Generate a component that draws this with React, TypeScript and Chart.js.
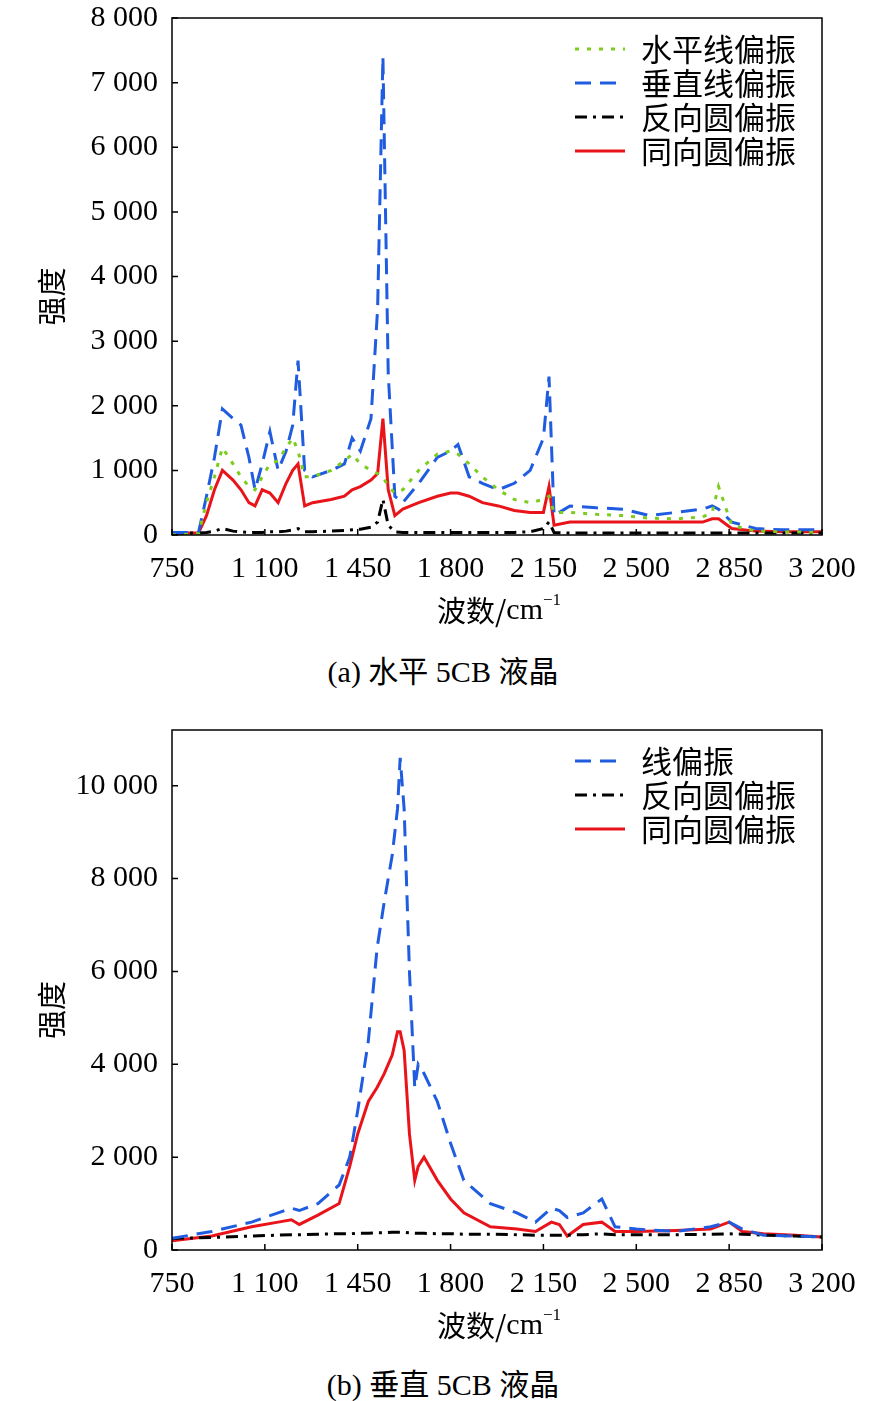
import React, { useEffect, useRef } from "react";
import { Chart, registerables } from "chart.js";
Chart.register(...registerables);

// Chart (a)
const xA = [750, 850, 880, 910, 940, 980, 1010, 1040, 1063, 1090, 1119, 1150, 1180, 1205, 1225, 1250, 1280, 1350, 1400, 1429, 1460, 1500, 1525, 1545, 1565, 1590, 1620, 1680, 1750, 1800, 1828, 1870, 1920, 1980, 2040, 2100, 2150, 2171, 2190, 2250, 2350, 2450, 2550, 2650, 2750, 2786, 2810, 2860, 2950, 3050, 3200];
const hLin = [0, 20, 500, 900, 1350, 1100, 900, 750, 700, 900, 1100, 1150, 1350, 1500, 1300, 900, 900, 1000, 1150, 1250, 1100, 1000, 950, 900, 750, 650, 700, 1000, 1250, 1300, 1250, 1100, 900, 700, 550, 500, 550, 600, 350, 350, 320, 300, 260, 250, 280, 350, 750, 150, 60, 50, 40];
const vLin = [40, 40, 600, 1200, 1950, 1800, 1700, 1200, 700, 1100, 1600, 1000, 1300, 1700, 2700, 1000, 900, 1000, 1100, 1500, 1300, 1800, 3500, 7400, 2500, 600, 500, 800, 1200, 1300, 1400, 900, 800, 700, 800, 1000, 1500, 2450, 300, 450, 420, 400, 300, 350, 400, 450, 400, 200, 100, 80, 80];
const crossC = [30, 30, 40, 60, 100, 60, 50, 40, 40, 40, 50, 50, 60, 80, 100, 50, 50, 60, 70, 80, 90, 120, 200, 550, 150, 50, 40, 40, 40, 40, 40, 40, 40, 40, 40, 50, 100, 200, 40, 30, 30, 30, 30, 30, 30, 30, 30, 30, 30, 30, 30];
const coC = [30, 30, 300, 700, 1000, 850, 700, 500, 450, 700, 650, 500, 800, 1000, 1100, 450, 500, 550, 600, 700, 750, 850, 950, 1800, 700, 300, 400, 500, 600, 650, 650, 600, 500, 450, 380, 350, 350, 750, 150, 200, 200, 200, 200, 200, 200, 250, 250, 100, 60, 50, 50];

// Chart (b)
const xB = [750, 900, 1050, 1150, 1200, 1230, 1300, 1380, 1420, 1450, 1490, 1523, 1550, 1580, 1600, 1610, 1625, 1645, 1665, 1678, 1700, 1750, 1800, 1850, 1950, 2050, 2120, 2180, 2210, 2240, 2300, 2370, 2420, 2500, 2650, 2780, 2850, 2900, 2980, 3100, 3200];
const linB = [250, 400, 600, 800, 900, 850, 1000, 1400, 2000, 3000, 4500, 6500, 7500, 8500, 9500, 10600, 9500, 6000, 3500, 4000, 3800, 3200, 2300, 1500, 1000, 800, 600, 900, 850, 700, 800, 1100, 500, 450, 400, 500, 600, 450, 320, 300, 280];
const crossB = [250, 270, 300, 320, 330, 330, 340, 350, 350, 360, 360, 370, 370, 380, 380, 380, 380, 370, 360, 360, 360, 350, 350, 340, 340, 330, 320, 320, 320, 320, 330, 350, 330, 330, 330, 340, 350, 340, 320, 300, 280];
const coB = [200, 300, 500, 600, 650, 550, 750, 1000, 1800, 2500, 3200, 3500, 3800, 4200, 4700, 4700, 4300, 2500, 1500, 1800, 2000, 1500, 1100, 800, 500, 450, 400, 600, 550, 300, 550, 600, 400, 400, 420, 450, 600, 400, 350, 320, 280];

const xTicks = [750, 1100, 1450, 1800, 2150, 2500, 2850, 3200];
const yTicksA = [0, 1000, 2000, 3000, 4000, 5000, 6000, 7000, 8000];
const yTicksB = [0, 2000, 4000, 6000, 8000, 10000];

const FONT = "'Liberation Serif', 'Noto Sans CJK SC', serif";
const CJK = "'Noto Sans CJK SC', 'Liberation Serif'";
const fmt = (v: number) => {
  const s = String(Math.round(v));
  return s.length > 3 ? s.slice(0, s.length - 3) + " " + s.slice(-3) : s;
};

type Ser = { label: string; data: number[]; color: string; dash: number[] };

function build(xs: number[], sers: Ser[]) {
  return sers.map((s) => ({
    label: s.label,
    data: xs.map((x, i) => ({ x, y: s.data[i] })),
    borderColor: s.color,
    borderDash: s.dash,
    borderWidth: 3,
    pointRadius: 0,
    tension: 0,
    fill: false,
  }));
}

function ChartBox({ xs, sers, ymax, yTicks, bottomH }: { xs: number[]; sers: Ser[]; ymax: number; yTicks: number[]; bottomH: number }) {
  const ref = useRef<HTMLCanvasElement>(null);
  useEffect(() => {
    const deco = {
      id: "deco",
      afterDraw(c: any) {
        const { ctx, chartArea: a, scales } = c;
        ctx.save();
        ctx.strokeStyle = "#000";
        ctx.lineWidth = 1.5;
        ctx.setLineDash([]);
        ctx.strokeRect(a.left, a.top, a.right - a.left, a.bottom - a.top);
        ctx.beginPath();
        xTicks.forEach((t) => {
          const px = scales.x.getPixelForValue(t);
          ctx.moveTo(px, a.bottom);
          ctx.lineTo(px, a.bottom - 6);
        });
        yTicks.forEach((t) => {
          const py = scales.y.getPixelForValue(t);
          ctx.moveTo(a.left, py);
          ctx.lineTo(a.left + 6, py);
        });
        ctx.stroke();
        ctx.fillStyle = "#000";
        ctx.textBaseline = "middle";
        // y tick labels
        ctx.textAlign = "right";
        ctx.font = `30px ${FONT}`;
        yTicks.forEach((t) => {
          ctx.fillText(fmt(t), a.left - 14, scales.y.getPixelForValue(t));
        });
        const cx = (a.left + a.right) / 2;
        const ty = a.bottom + 76;
        ctx.font = `29px ${CJK}`;
        const w1 = ctx.measureText("波数/").width;
        ctx.font = `30px ${FONT}`;
        const w2 = ctx.measureText("cm").width;
        const w3 = 14;
        const sx = cx - (w1 + w2 + w3) / 2;
        ctx.textAlign = "left";
        ctx.font = `29px ${CJK}`;
        ctx.fillText("波数/", sx, ty);
        ctx.font = `30px ${FONT}`;
        ctx.fillText("cm", sx + w1, ty);
        ctx.font = `17px ${FONT}`;
        ctx.fillText("−1", sx + w1 + w2, ty - 10);
        ctx.save();
        ctx.translate(52, (a.top + a.bottom) / 2 + 20);
        ctx.rotate(-Math.PI / 2);
        ctx.textAlign = "center";
        ctx.font = `29px ${CJK}`;
        ctx.fillText("强度", 0, 0);
        ctx.restore();
        const lx = 575, lw = 50;
        sers.forEach((s, i) => {
          const y = a.top + 31 + i * 34;
          ctx.strokeStyle = s.color;
          ctx.lineWidth = 3;
          ctx.setLineDash(s.dash);
          ctx.beginPath();
          ctx.moveTo(lx, y);
          ctx.lineTo(lx + lw, y);
          ctx.stroke();
          ctx.fillStyle = "#000";
          ctx.textAlign = "left";
          ctx.font = `31px ${CJK}`;
          ctx.fillText(s.label, 641, y);
        });
        ctx.restore();
      },
    };
    const chart = new Chart(ref.current!, {
      type: "line",
      data: { datasets: build(xs, sers) as any },
      options: {
        animation: false,
        responsive: false,
        layout: { padding: { top: 18, right: 64, left: 0, bottom: 0 } },
        plugins: { legend: { display: false }, tooltip: { enabled: false } },
        scales: {
          x: {
            type: "linear",
            min: 750,
            max: 3200,
            afterBuildTicks: (ax: any) => { ax.ticks = xTicks.map((v) => ({ value: v })); },
            afterFit: (ax: any) => { ax.height = bottomH; },
            grid: { display: false },
            border: { display: false },
            ticks: { color: "#000", font: { family: FONT, size: 30 }, maxRotation: 0, padding: 8, callback: (v: any) => fmt(v) },
          },
          y: {
            min: 0,
            max: ymax,
            afterBuildTicks: (ax: any) => { ax.ticks = yTicks.map((v) => ({ value: v })); },
            afterFit: (ax: any) => { ax.width = 172; },
            grid: { display: false },
            border: { display: false },
            ticks: { display: false },
          },
        },
      } as any,
      plugins: [deco],
    });
    return () => chart.destroy();
  }, []);
  return <canvas ref={ref} width={886} height={640} style={{ display: "block", width: 886, height: 640 }} />;
}

const capStyle: React.CSSProperties = { position: "absolute", left: 0, width: 886, textAlign: "center", fontFamily: FONT, fontSize: 30, color: "#000" };

export default function App() {
  const sA: Ser[] = [
    { label: "水平线偏振", data: hLin, color: "#7ccc1e", dash: [4, 8] },
    { label: "垂直线偏振", data: vLin, color: "#1f5ce0", dash: [16, 9] },
    { label: "反向圆偏振", data: crossC, color: "#000000", dash: [12, 6, 3, 6] },
    { label: "同向圆偏振", data: coC, color: "#e8141a", dash: [] },
  ];
  const sB: Ser[] = [
    { label: "线偏振", data: linB, color: "#1f5ce0", dash: [16, 9] },
    { label: "反向圆偏振", data: crossB, color: "#000000", dash: [12, 6, 3, 6] },
    { label: "同向圆偏振", data: coB, color: "#e8141a", dash: [] },
  ];
  return (
    <div style={{ position: "absolute", top: 0, left: 0, width: 886, height: 1401, background: "#fff" }}>
      <div style={{ position: "absolute", top: 0, left: 0 }}>
        <ChartBox xs={xA} sers={sA} ymax={8000} yTicks={yTicksA} bottomH={105} />
      </div>
      <div style={{ ...capStyle, top: 647 }}>(a) 水平 5CB 液晶</div>
      <div style={{ position: "absolute", top: 712, left: 0 }}>
        <ChartBox xs={xB} sers={sB} ymax={11200} yTicks={yTicksB} bottomH={102} />
      </div>
      <div style={{ ...capStyle, top: 1360 }}>(b) 垂直 5CB 液晶</div>
    </div>
  );
}
